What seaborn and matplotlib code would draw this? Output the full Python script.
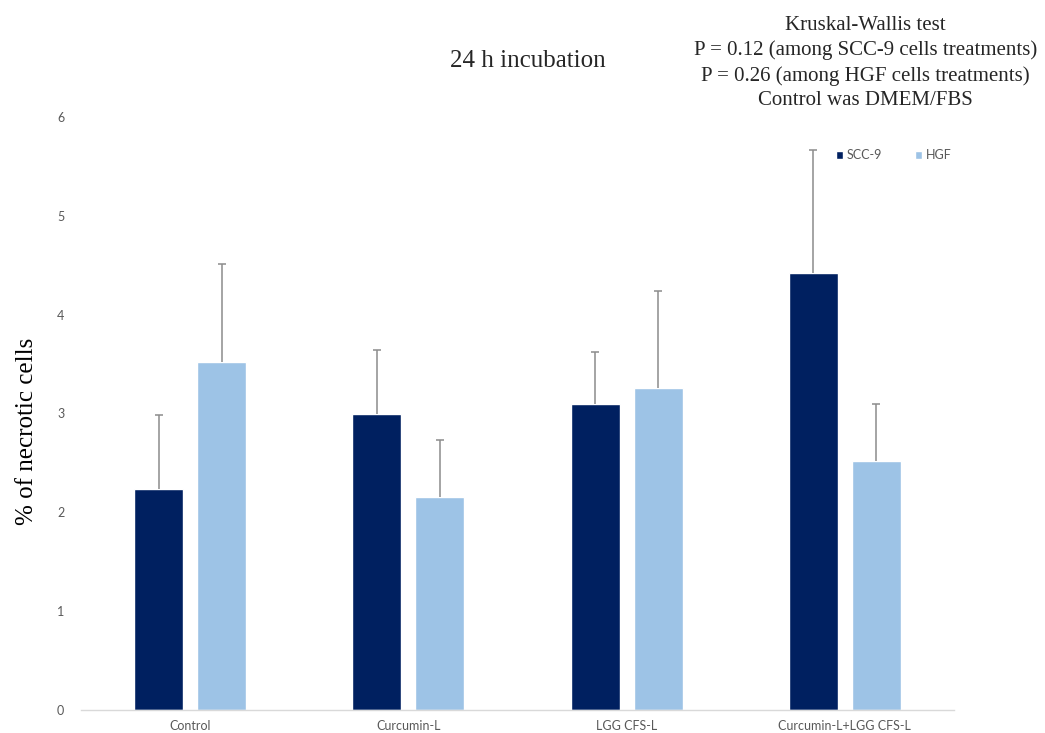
import pandas as pd
import matplotlib
matplotlib.use("Agg")
import matplotlib.pyplot as plt
import seaborn as sns

# values (mean and upper error)
treatments = ['Control', 'Curcumin-L', 'LGG CFS-L', 'Curcumin-L+LGG CFS-L']
cell_lines = ['SCC-9', 'HGF']
scc9_mean = [2.24, 2.99, 3.10, 4.42]
scc9_err = [0.74, 0.65, 0.52, 1.25]
hgf_mean = [3.52, 2.15, 3.26, 2.52]
hgf_err = [0.99, 0.58, 0.98, 0.58]
y_ticks = [0, 1, 2, 3, 4, 5, 6]

colors = ['#002060', '#9DC3E6']
grey_txt = '#595959'

df = pd.DataFrame({
    'treatment': treatments * 2,
    'cell': [cell_lines[0]] * 4 + [cell_lines[1]] * 4,
    'value': scc9_mean + hgf_mean,
})

sns.set_style("white")
plt.rcParams['font.family'] = ['Lato', 'DejaVu Sans']

fig, ax = plt.subplots(figsize=(10.45, 7.33), dpi=100)
fig.subplots_adjust(left=0.0775, right=0.9129, bottom=0.0314, top=0.8404)

sns.barplot(data=df, x='treatment', y='value', hue='cell', order=treatments,
            hue_order=cell_lines, palette=colors, width=0.576, gap=0.22,
            errorbar=None, saturation=1, ax=ax)

# one-sided error bars on top of each bar (only the upper cap is kept)
for cont, errs in zip(ax.containers, [scc9_err, hgf_err]):
    xs = [p.get_x() + p.get_width() / 2 for p in cont]
    ys = [p.get_height() for p in cont]
    eb = ax.errorbar(xs, ys, yerr=[[0] * len(errs), errs], fmt='none',
                     ecolor='#8c8c8c', elinewidth=1.1, capsize=3, capthick=1.1, zorder=3)
    eb[1][0].set_visible(False)

ax.set_xlim(-0.5, len(treatments) - 0.5)
ax.set_ylim(0, 6)
ax.set_yticks(y_ticks)
ax.set_xlabel('')
ax.set_ylabel('% of necrotic cells', family='Liberation Serif', fontsize=18,
              color='black', va='center')
ax.yaxis.set_label_coords(-0.062, 0.469)
ax.tick_params(axis='both', length=0, labelsize=9, labelcolor=grey_txt)
ax.tick_params(axis='y', pad=12)
ax.tick_params(axis='x', pad=7)

for s in ['top', 'right', 'left']:
    ax.spines[s].set_visible(False)
ax.spines['bottom'].set_color('#d9d9d9')
ax.spines['bottom'].set_linewidth(1)

sns.move_legend(ax, loc='center', bbox_to_anchor=(0.931, 0.936), ncol=2,
                frameon=False, title=None, fontsize=9, handlelength=0.6,
                handleheight=0.6, handletextpad=0.3, columnspacing=2.6)
for t in ax.get_legend().get_texts():
    t.set_color(grey_txt)

fig.text(0.505, 0.917, '24 h incubation', family='Liberation Serif',
         fontsize=18, ha='center', va='center')
fig.text(0.828, 0.914,
         'Kruskal-Wallis test\nP = 0.12 (among SCC-9 cells treatments)\n'
         'P = 0.26 (among HGF cells treatments)\nControl was DMEM/FBS',
         family='Liberation Serif', fontsize=15, ha='center', va='center',
         linespacing=1.4)

fig.savefig('out.png', dpi=100)
